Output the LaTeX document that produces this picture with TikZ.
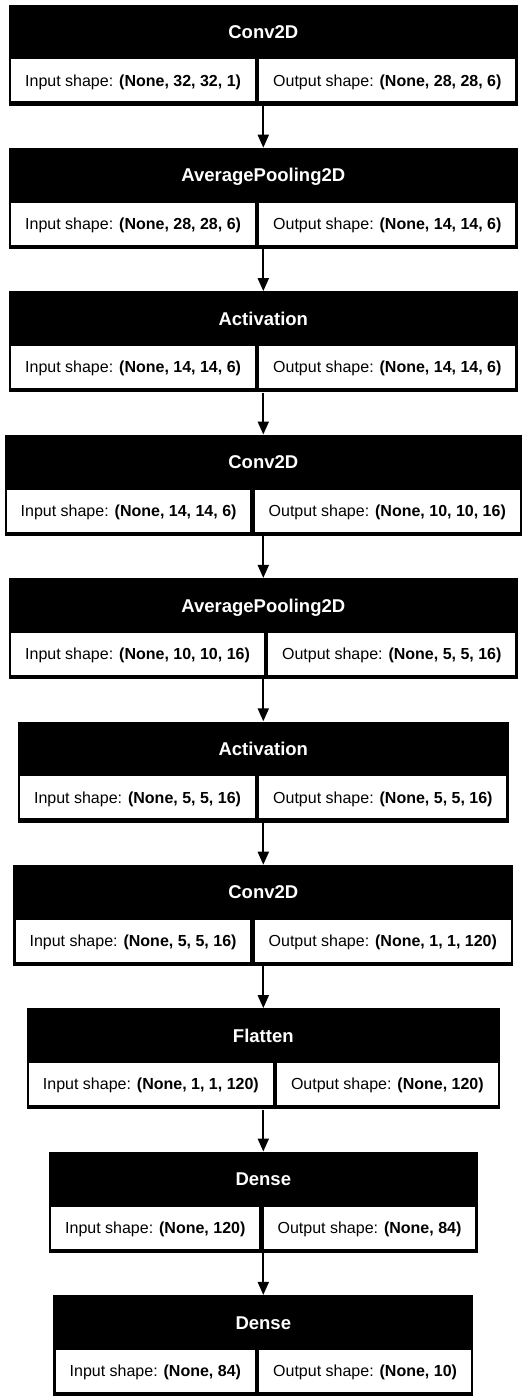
\documentclass[tikz,border=0pt]{standalone}
\usepackage{fontspec}
\setmainfont{Liberation Sans}
\usetikzlibrary{arrows.meta,positioning}

\begin{document}
\begin{tikzpicture}[
  x=1pt, y=-1pt,
  layer/.style={fill=black, minimum height=101pt, inner sep=0pt, anchor=north},
  head/.style={text=white, inner sep=0pt, text height=13.2pt, text depth=0pt,
    font=\bfseries\fontsize{18.5}{22}\selectfont},
  cell/.style={fill=white, minimum height=42pt, inner xsep=13.9pt, inner ysep=0pt,
    text height=11.5pt, text depth=0pt, font=\fontsize{16}{19}\selectfont},
  cellin/.style={cell, anchor=east},
  cellout/.style={cell, anchor=west},
  flow/.style={-{Triangle[length=13pt, width=11pt]}, line width=2pt}
]
\useasboundingbox (0,0) rectangle (527,1400);

% layer boxes
\node[layer, minimum width=508.7pt] (conv1) at (263.3,4.3) {};
\node[layer, minimum width=508.7pt] (pool1) at (263.3,147.7) {};
\node[layer, minimum width=508.7pt] (act1) at (263.3,291.1) {};
\node[layer, minimum width=517.6pt] (conv2) at (263.3,434.5) {};
\node[layer, minimum width=508.7pt] (pool2) at (263.3,577.9) {};
\node[layer, minimum width=490.9pt] (act2) at (263.3,721.3) {};
\node[layer, minimum width=499.8pt] (conv3) at (263.3,864.7) {};
\node[layer, minimum width=473.1pt] (flat) at (263.3,1008.1) {};
\node[layer, minimum width=428.7pt] (dense1) at (263.3,1151.5) {};
\node[layer, minimum width=419.8pt] (dense2) at (263.3,1294.9) {};

% titles
\node[head] (conv1t) at (263.3,31.8) {Conv2D};
\node[head] (pool1t) at (263.3,175.2) {AveragePooling2D};
\node[head] (act1t) at (263.3,318.6) {Activation};
\node[head] (conv2t) at (263.3,462.0) {Conv2D};
\node[head] (pool2t) at (263.3,605.4) {AveragePooling2D};
\node[head] (act2t) at (263.3,748.8) {Activation};
\node[head] (conv3t) at (263.3,892.2) {Conv2D};
\node[head] (flatt) at (263.3,1035.6) {Flatten};
\node[head] (dense1t) at (263.3,1179.0) {Dense};
\node[head] (dense2t) at (263.3,1322.4) {Dense};

% shape cells
\node[cellin] (conv1in) at (255.1,80.3) {Input shape: \textbf{(None, 32, 32, 1)}};
\node[cellout] (conv1out) at (259.1,80.3) {Output shape: \textbf{(None, 28, 28, 6)}};
\node[cellin] (pool1in) at (255.1,223.7) {Input shape: \textbf{(None, 28, 28, 6)}};
\node[cellout] (pool1out) at (259.1,223.7) {Output shape: \textbf{(None, 14, 14, 6)}};
\node[cellin] (act1in) at (255.1,367.1) {Input shape: \textbf{(None, 14, 14, 6)}};
\node[cellout] (act1out) at (259.1,367.1) {Output shape: \textbf{(None, 14, 14, 6)}};
\node[cellin] (conv2in) at (250.6,510.5) {Input shape: \textbf{(None, 14, 14, 6)}};
\node[cellout] (conv2out) at (254.6,510.5) {Output shape: \textbf{(None, 10, 10, 16)}};
\node[cellin] (pool2in) at (264.0,653.9) {Input shape: \textbf{(None, 10, 10, 16)}};
\node[cellout] (pool2out) at (268.0,653.9) {Output shape: \textbf{(None, 5, 5, 16)}};
\node[cellin] (act2in) at (255.1,797.3) {Input shape: \textbf{(None, 5, 5, 16)}};
\node[cellout] (act2out) at (259.1,797.3) {Output shape: \textbf{(None, 5, 5, 16)}};
\node[cellin] (conv3in) at (250.6,940.7) {Input shape: \textbf{(None, 5, 5, 16)}};
\node[cellout] (conv3out) at (254.6,940.7) {Output shape: \textbf{(None, 1, 1, 120)}};
\node[cellin] (flatin) at (272.9,1084.1) {Input shape: \textbf{(None, 1, 1, 120)}};
\node[cellout] (flatout) at (276.9,1084.1) {Output shape: \textbf{(None, 120)}};
\node[cellin] (dense1in) at (259.5,1227.5) {Input shape: \textbf{(None, 120)}};
\node[cellout] (dense1out) at (263.5,1227.5) {Output shape: \textbf{(None, 84)}};
\node[cellin] (dense2in) at (255.1,1370.9) {Input shape: \textbf{(None, 84)}};
\node[cellout] (dense2out) at (259.1,1370.9) {Output shape: \textbf{(None, 10)}};

% connectors
\draw[flow] (conv1) -- (pool1);
\draw[flow] (pool1) -- (act1);
\draw[flow] (act1) -- (conv2);
\draw[flow] (conv2) -- (pool2);
\draw[flow] (pool2) -- (act2);
\draw[flow] (act2) -- (conv3);
\draw[flow] (conv3) -- (flat);
\draw[flow] (flat) -- (dense1);
\draw[flow] (dense1) -- (dense2);
\end{tikzpicture}
\end{document}
